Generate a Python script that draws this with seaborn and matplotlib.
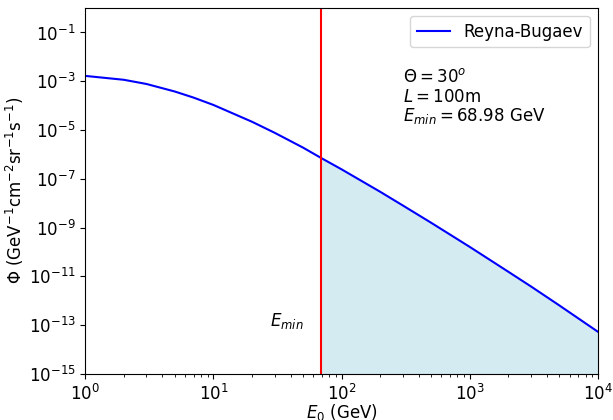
import numpy as np
import pandas as pd
import matplotlib
matplotlib.use("Agg")
import matplotlib.pyplot as plt
import seaborn as sns

# Data
energy = [1, 2, 3, 5, 7, 10, 20, 30, 50, 68.98, 100, 200, 300, 500,
          1000, 2000, 3000, 5000, 10000]
flux = [1.66e-3, 1.15e-3, 7.76e-4, 3.80e-4, 2.14e-4, 1.07e-4, 2.19e-5,
        7.76e-6, 1.91e-6, 7.24e-7, 2.45e-7, 2.95e-8, 8.13e-9, 1.58e-9,
        1.62e-10, 1.55e-11, 3.89e-12, 6.46e-13, 5.37e-14]
e_min = 68.98
theta_deg = 30
length_m = 100
series_label = "Reyna-Bugaev"

df = pd.DataFrame({"E0": energy, "flux": flux})

plt.rcParams["font.size"] = 12
fig, ax = plt.subplots(figsize=(6.13, 4.20), dpi=100)
fig.subplots_adjust(left=0.139, right=0.9755, top=0.982, bottom=0.1095)

ax.set_xscale("log")
ax.set_yscale("log")

sns.lineplot(data=df, x="E0", y="flux", ax=ax, color="blue",
             label=series_label, linewidth=1.5, sort=True, estimator=None)

mask = df["E0"] >= e_min
ax.fill_between(df.loc[mask, "E0"], df.loc[mask, "flux"], 1e-16,
                color="lightblue", alpha=0.5, linewidth=0)
ax.axvline(e_min, color="red", linewidth=1.5)

ax.set_xlim(1, 1e4)
ax.set_ylim(1e-15, 1.05)

ax.set_xlabel("$E_0$ (GeV)", labelpad=-1.5)
ax.set_ylabel(r"$\Phi$ (GeV$^{-1}$cm$^{-2}$sr$^{-1}$s$^{-1}$)", labelpad=2)

ax.text(27.5, 9e-14, "$E_{min}$", ha="left", va="baseline")
ax.text(0.619, 0.798, r"$\Theta = %d^o$" % theta_deg, transform=ax.transAxes,
        va="baseline")
ax.text(0.619, 0.742, r"$L = %d$m" % length_m, transform=ax.transAxes,
        va="baseline")
ax.text(0.619, 0.691, r"$E_{min} = %.2f$ GeV" % e_min, transform=ax.transAxes,
        va="baseline")

ax.legend(loc="upper right")

fig.savefig("out.png", dpi=100)
